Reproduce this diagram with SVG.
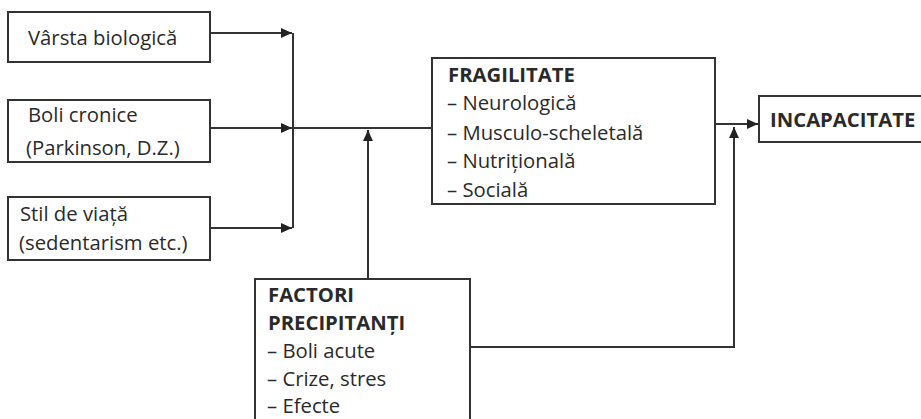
<svg xmlns="http://www.w3.org/2000/svg" width="921" height="419" viewBox="0 0 921 419">
<defs>
<style>
.box{fill:#fff;stroke:#333;stroke-width:2}
.t{font-family:"Open Sans","Noto Sans",sans-serif;font-size:20.3px;fill:#2a2a2a}
.b{font-weight:bold}
.c{fill:none;stroke:#333;stroke-width:2}
</style>
<marker id="ah" viewBox="0 0 10 10" refX="10" refY="5" markerWidth="11" markerHeight="11" markerUnits="userSpaceOnUse" orient="auto">
<path d="M0,0.5 L10,5 L0,9.5 Z" fill="#222"/>
</marker>
</defs>
<rect width="921" height="419" fill="#fff"/>
<g id="connectors">
<path class="c" d="M210,33 H292" marker-end="url(#ah)"/>
<path class="c" d="M210,128 H292" marker-end="url(#ah)"/>
<path class="c" d="M210,228 H292" marker-end="url(#ah)"/>
<path class="c" d="M293,33 V228"/>
<path class="c" d="M293,128 H432"/>
<path class="c" d="M368,279 V130" marker-end="url(#ah)"/>
<path class="c" d="M715,124 H758" marker-end="url(#ah)"/>
<path class="c" d="M470,347 H734 V127" marker-end="url(#ah)"/>
</g>
<g id="varsta">
<rect class="box" x="8" y="12" width="202" height="50"/>
<text class="t" x="28" y="45">Vârsta biologică</text>
</g>
<g id="boli">
<rect class="box" x="8" y="100" width="202" height="62"/>
<text class="t" x="28" y="122">Boli cronice</text>
<text class="t" x="26" y="155">(Parkinson, D.Z.)</text>
</g>
<g id="stil">
<rect class="box" x="8" y="197" width="202" height="63"/>
<text class="t" x="20" y="221">Stil de viață</text>
<text class="t" x="19" y="250">(sedentarism etc.)</text>
</g>
<g id="fragilitate">
<rect class="box" x="432" y="58" width="283" height="146"/>
<text class="t b" x="448" y="82">FRAGILITATE</text>
<text class="t" x="447" y="110">– Neurologică</text>
<text class="t" x="447" y="140">– Musculo-scheletală</text>
<text class="t" x="447" y="168">– Nutrițională</text>
<text class="t" x="447" y="197">– Socială</text>
</g>
<g id="incapacitate">
<rect class="box" x="759" y="96" width="170" height="46"/>
<text class="t b" x="770" y="127">INCAPACITATE</text>
</g>
<g id="factori">
<rect class="box" x="255" y="279" width="215" height="150"/>
<text class="t b" x="268" y="302">FACTORI</text>
<text class="t b" x="268" y="330">PRECIPITANȚI</text>
<text class="t" x="267" y="358">– Boli acute</text>
<text class="t" x="267" y="386">– Crize, stres</text>
<text class="t" x="267" y="413">– Efecte</text>
</g>
</svg>
